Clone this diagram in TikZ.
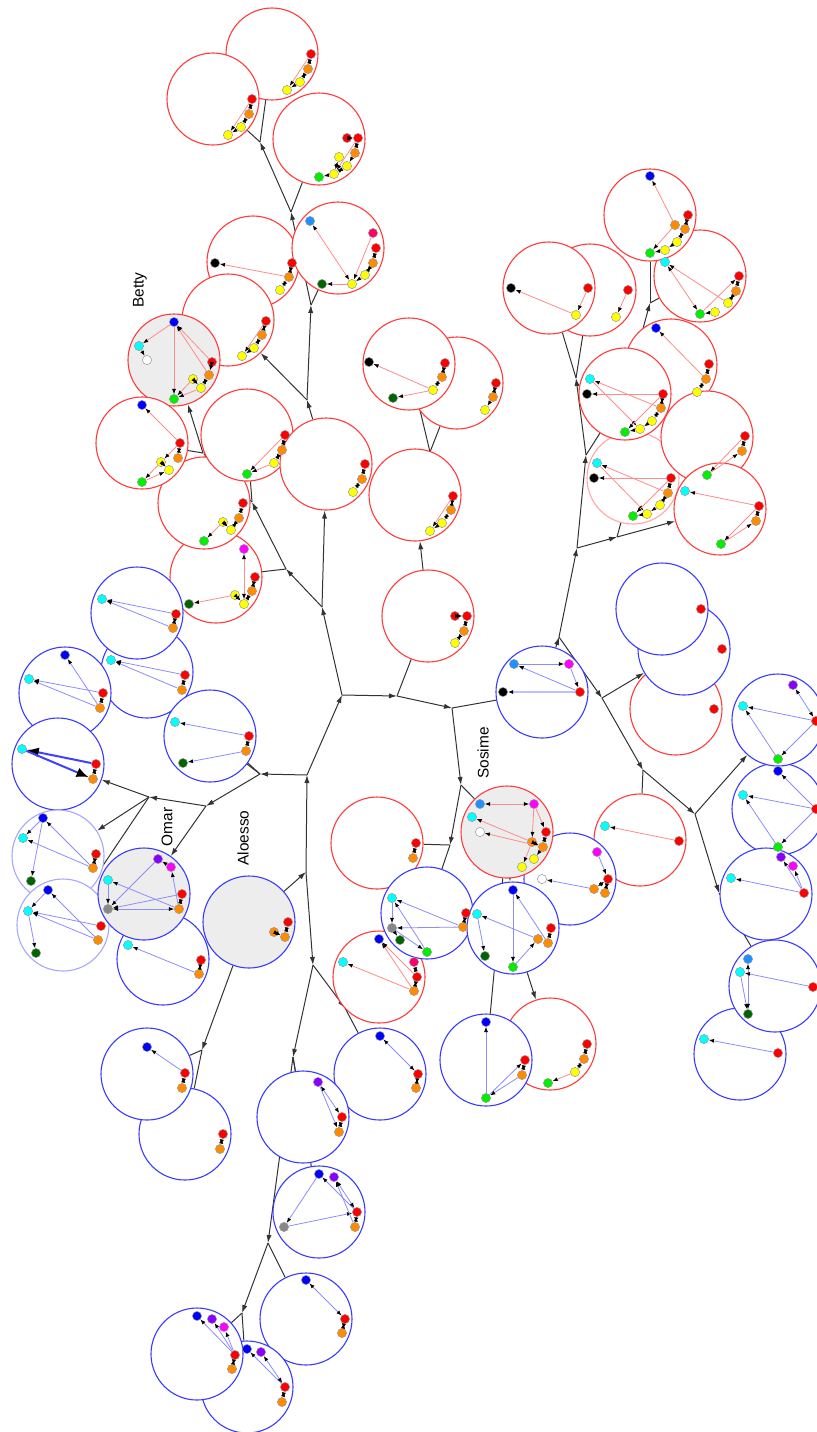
\documentclass[tikz,border=0pt]{standalone}
\usepackage{fontspec}
\setmainfont{Liberation Sans}
\usetikzlibrary{arrows.meta,backgrounds}

\definecolor{ringRed}{HTML}{FF3B3B}
\definecolor{ringBlue}{HTML}{3B3BFF}
\definecolor{nRed}{HTML}{FF0000}
\definecolor{nOrange}{HTML}{FF8C00}
\definecolor{nYellow}{HTML}{FFFF00}
\definecolor{nGreen}{HTML}{00F000}
\definecolor{nDkgreen}{HTML}{006400}
\definecolor{nCyan}{HTML}{00FFFF}
\definecolor{nBlue}{HTML}{0000FF}
\definecolor{nAzure}{HTML}{1E90FF}
\definecolor{nMagenta}{HTML}{FF00FF}
\definecolor{nPurple}{HTML}{8A00FF}
\definecolor{nPink}{HTML}{FF0066}
\definecolor{nGray}{HTML}{888888}
\definecolor{nBlack}{HTML}{000000}

\begin{document}
\begin{tikzpicture}[
  x=0.5pt, y=-0.5pt,
  grpR/.style={circle, draw=ringRed, line width=0.55pt, fill=white, minimum size=46pt, inner sep=0pt},
  grpB/.style={grpR, draw=ringBlue},
  named/.style={fill=gray!14},
  faintR/.style={draw=ringRed!45},
  faintB/.style={draw=ringBlue!45},
  nd/.style={circle, draw=black!40, line width=0.25pt, fill=#1, inner sep=0pt, minimum size=4.6pt},
  er/.style={draw=red!45, line width=0.4pt, -{Latex[color=black,length=2.6pt,width=2pt]}},
  erb/.style={er, {Latex[color=black,length=2.6pt,width=2pt]}-{Latex[color=black,length=2.6pt,width=2pt]}},
  eb/.style={er, draw=blue!45},
  ebb/.style={erb, draw=blue!45},
  ebk/.style={draw=blue!75, line width=1pt, -{Latex[color=black,length=6pt,width=5pt]}},
  dbl/.style={draw=black, line width=0.6pt, {Latex[length=2.4pt,width=2.2pt]}-{Latex[length=2.4pt,width=2.2pt]}},
  brn/.style={draw=black!80, line width=0.5pt},
  brnA/.style={brn, -{Latex[length=4pt,width=2.6pt]}},
  lbl/.style={font=\fontsize{7.7}{9}\selectfont, rotate=90},
]
\useasboundingbox (0,0) rectangle (817,1432);

% === RINGS (back to front) ===
\node[grpR] (c05) at (253,262) {};
\node[grpR] (c06) at (228,320) {};
\node[grpR] (c01) at (272,54) {};
\node[grpR] (c02) at (213,99) {};
\node[grpR] (c03) at (319,139) {};
\node[grpR] (c04) at (338,248) {};
\node[grpR, named] (c07) at (174,360) {};
\node[grpR] (c12) at (216,577) {};
\node[grpR] (c11) at (204,503) {};
\node[grpR] (c08) at (142,443) {};
\node[grpR] (c09) at (247,435) {};
\node[grpR] (c10) at (326,464) {};

\node[grpB] (c14) at (147,672) {};
\node[grpB] (c13) at (137,613) {};
\node[grpB] (c15) at (65,693) {};
\node[grpB] (c16) at (210,736) {};
\node[grpB] (c17) at (58,764) {};
\node[grpB, faintB] (c18) at (58,856) {};
\node[grpB, faintB] (c19) at (63,925) {};
\node[grpB] (c20) at (163,959) {};
\node[grpB, named] (c21) at (144,894) {};
\node[grpB, named] (c22) at (249,922) {};
\node[grpB] (c24) at (185,1134) {};
\node[grpB] (c23) at (147,1074) {};

\node[grpR] (c25) at (377,843) {};
\node[grpR] (c27) at (379,977) {};
\node[grpB] (c26) at (427,913) {};
\node[grpB] (c28) at (380,1074) {};
\node[grpB] (c29) at (303,1117) {};
\node[grpB] (c30) at (319,1212) {};
\node[grpB] (c31) at (306,1319) {};
\node[grpB] (c32) at (247,1387) {};
\node[grpB] (c33) at (197,1354) {};

\node[grpR] (c34) at (428,616) {};
\node[grpR] (c35) at (415,495) {};
\node[grpR] (c36) at (457,383) {};
\node[grpR] (c37) at (409,364) {};
\node[grpB] (c38) at (542,692) {};

\node[grpR] (c56) at (640,840) {};
\node[grpB] (c40) at (570,879) {};
\node[grpB] (c41) at (513,928) {};
\node[grpR, named] (c39) at (507,832) {};
\node[grpR] (c43) at (550,1044) {};
\node[grpB] (c42) at (486,1060) {};

\node[grpR] (c44) at (590,290) {};
\node[grpR] (c45) at (549,288) {};
\node[grpR] (c46) at (700,276) {};
\node[grpR] (c47) at (650,215) {};
\node[grpR] (c48) at (671,365) {};
\node[grpR, faintR] (c49) at (633,478) {};
\node[grpR] (c50) at (707,437) {};
\node[grpR] (c51) at (720,509) {};
\node[grpR] (c52) at (625,394) {};

\node[grpR] (c53) at (676,709) {};
\node[grpB] (c54) at (684,649) {};
\node[grpB] (c55) at (662,609) {};
\node[grpB] (c57) at (778,809) {};
\node[grpB] (c58) at (778,720) {};
\node[grpB] (c59) at (766,894) {};
\node[grpB] (c61) at (740,1054) {};
\node[grpB] (c60) at (775,986) {};

% names
\node[lbl] (lbBetty) at (140,290) {Betty};
\node[lbl] (lbOmar) at (167,827) {Omar};
\node[lbl] (lbAloesso) at (243,838) {Aloesso};
\node[lbl] (lbSosime) at (483,753) {Sosime};

% === MEMBERS ===
\node[nd=nRed] (c01a) at (311,54) {};
\node[nd=nOrange] (c01b) at (308,69) {};
\node[nd=nYellow] (c01c) at (300,82) {};
\node[nd=nYellow] (c01d) at (287,90) {};
\draw[dbl] (c01a) -- (c01b); \draw[dbl] (c01b) -- (c01c);
\draw[er] (c01c) -- (c01d); \draw[er] (c01a) -- (c01d);

\node[nd=nRed] (c02a) at (252,99) {};
\node[nd=nOrange] (c02b) at (249,114) {};
\node[nd=nYellow] (c02c) at (241,127) {};
\node[nd=nYellow] (c02d) at (228,135) {};
\draw[dbl] (c02a) -- (c02b); \draw[dbl] (c02b) -- (c02c);
\draw[er] (c02c) -- (c02d); \draw[er] (c02a) -- (c02d);

\node[nd=nRed] (c03a) at (347,138) {};
\node[nd=nRed] (c03b) at (358,138) {};
\node[nd=nOrange] (c03c) at (355,153) {};
\node[nd=nYellow] (c03d) at (339,157) {};
\node[nd=nYellow] (c03e) at (347,166) {};
\node[nd=nYellow] (c03f) at (334,174) {};
\node[nd=nGreen] (c03g) at (319,177) {};
\draw[dbl] (c03a) -- (c03b); \draw[dbl] (c03b) -- (c03c);
\draw[er] (c03c) -- (c03e); \draw[er] (c03b) -- (c03f);
\draw[dbl] (c03d) -- (c03f); \draw[dbl] (c03e) -- (c03f);
\draw[er] (c03f) -- (c03g);

\node[nd=nAzure] (c04a) at (310,221) {};
\node[nd=nPink] (c04b) at (373,233) {};
\node[nd=nRed] (c04c) at (376,248) {};
\node[nd=nOrange] (c04d) at (373,263) {};
\node[nd=nYellow] (c04e) at (365,275) {};
\node[nd=nYellow] (c04f) at (352,284) {};
\node[nd=nDkgreen] (c04g) at (322,284) {};
\draw[erb] (c04f) -- (c04a); \draw[er] (c04b) -- (c04f);
\draw[dbl] (c04c) -- (c04d); \draw[dbl] (c04d) -- (c04e);
\draw[er] (c04e) -- (c04f); \draw[er] (c04f) -- (c04g);

\node[nd=nBlack] (c05a) at (215,263) {};
\node[nd=nRed] (c05b) at (292,263) {};
\node[nd=nOrange] (c05c) at (289,277) {};
\node[nd=nYellow] (c05d) at (280,290) {};
\draw[er] (c05c) -- (c05a);
\draw[dbl] (c05b) -- (c05c); \draw[dbl] (c05c) -- (c05d);

\node[nd=nRed] (c06a) at (266,321) {};
\node[nd=nOrange] (c06b) at (262,335) {};
\node[nd=nYellow] (c06c) at (254,348) {};
\node[nd=nYellow] (c06d) at (242,356) {};
\draw[dbl] (c06a) -- (c06b); \draw[dbl] (c06b) -- (c06c);
\draw[er] (c06c) -- (c06d); \draw[er] (c06a) -- (c06d);

% Betty
\node[nd=nBlue] (c07a) at (174,322) {};
\node[nd=nCyan] (c07b) at (139,346) {};
\node[nd=white] (c07c) at (147,360) {};
\node[nd=nRed] (c07d) at (212,362) {};
\node[nd=nOrange] (c07e) at (209,375) {};
\node[nd=nYellow] (c07f) at (193,379) {};
\node[nd=nYellow] (c07g) at (201,388) {};
\node[nd=nGreen] (c07h) at (174,399) {};
\draw[er] (c07a) -- (c07b); \draw[er] (c07b) -- (c07c);
\draw[er] (c07a) -- (c07h); \draw[er] (c07d) -- (c07a); \draw[er] (c07e) -- (c07a);
\draw[dbl] (c07d) -- (c07e); \draw[dbl] (c07e) -- (c07g); \draw[dbl] (c07f) -- (c07g);
\draw[er] (c07f) -- (c07h); \draw[er] (c07g) -- (c07h);

\node[nd=nBlue] (c08a) at (142,405) {};
\node[nd=nRed] (c08b) at (180,443) {};
\node[nd=nOrange] (c08c) at (178,458) {};
\node[nd=nYellow] (c08d) at (161,462) {};
\node[nd=nYellow] (c08e) at (169,470) {};
\node[nd=nGreen] (c08f) at (142,482) {};
\draw[er] (c08b) -- (c08a); \draw[dbl] (c08b) -- (c08c);
\draw[er] (c08b) -- (c08d); \draw[dbl] (c08d) -- (c08e);
\draw[er] (c08d) -- (c08f); \draw[er] (c08f) -- (c08e);

\node[nd=nRed] (c09a) at (285,435) {};
\node[nd=nOrange] (c09b) at (282,450) {};
\node[nd=nYellow] (c09c) at (274,463) {};
\node[nd=nGreen] (c09d) at (247,474) {};
\draw[dbl] (c09a) -- (c09b); \draw[dbl] (c09b) -- (c09c);
\draw[er] (c09a) -- (c09d); \draw[er] (c09c) -- (c09d);

\node[nd=nRed] (c10a) at (365,464) {};
\node[nd=nOrange] (c10b) at (362,479) {};
\node[nd=nYellow] (c10c) at (353,492) {};
\draw[dbl] (c10a) -- (c10b); \draw[dbl] (c10b) -- (c10c);

\node[nd=nRed] (c11a) at (243,503) {};
\node[nd=nOrange] (c11b) at (239,518) {};
\node[nd=nYellow] (c11c) at (223,522) {};
\node[nd=nYellow] (c11d) at (231,530) {};
\node[nd=nGreen] (c11e) at (204,541) {};
\draw[dbl] (c11a) -- (c11b); \draw[dbl] (c11b) -- (c11d);
\draw[dbl] (c11c) -- (c11d); \draw[er] (c11c) -- (c11e);

\node[nd=nMagenta] (c12a) at (244,549) {};
\node[nd=nRed] (c12b) at (255,577) {};
\node[nd=nOrange] (c12c) at (252,591) {};
\node[nd=nYellow] (c12d) at (235,595) {};
\node[nd=nYellow] (c12e) at (244,604) {};
\node[nd=nDkgreen] (c12f) at (189,604) {};
\draw[erb] (c12e) -- (c12a); \draw[dbl] (c12b) -- (c12c);
\draw[dbl] (c12c) -- (c12e); \draw[dbl] (c12d) -- (c12e);
\draw[er] (c12d) -- (c12f);

% blue left
\node[nd=nCyan] (c13a) at (102,599) {};
\node[nd=nRed] (c13b) at (176,614) {};
\node[nd=nOrange] (c13c) at (173,628) {};
\draw[eb] (c13b) -- (c13a); \draw[eb] (c13c) -- (c13a); \draw[dbl] (c13b) -- (c13c);

\node[nd=nCyan] (c14a) at (111,660) {};
\node[nd=nRed] (c14b) at (185,675) {};
\node[nd=nOrange] (c14c) at (182,690) {};
\draw[eb] (c14b) -- (c14a); \draw[eb] (c14c) -- (c14a); \draw[dbl] (c14b) -- (c14c);

\node[nd=nBlue] (c15a) at (65,655) {};
\node[nd=nCyan] (c15b) at (29,679) {};
\node[nd=nRed] (c15c) at (103,693) {};
\node[nd=nOrange] (c15d) at (100,708) {};
\draw[eb] (c15d) -- (c15a); \draw[eb] (c15c) -- (c15b); \draw[eb] (c15d) -- (c15b);
\draw[dbl] (c15c) -- (c15d);

\node[nd=nCyan] (c16a) at (175,722) {};
\node[nd=nRed] (c16b) at (249,736) {};
\node[nd=nOrange] (c16c) at (246,751) {};
\node[nd=nDkgreen] (c16d) at (183,763) {};
\draw[eb] (c16b) -- (c16a); \draw[dbl] (c16b) -- (c16c); \draw[eb] (c16c) -- (c16d);

\node[nd=nCyan] (c17a) at (22,749) {};
\node[nd=nRed] (c17b) at (96,764) {};
\node[nd=nOrange] (c17c) at (93,779) {};
\draw[ebk] (c17b) -- (c17a); \draw[ebk] (c17a) -- (c17c); \draw[dbl] (c17b) -- (c17c);

\node[nd=nBlue] (c18a) at (43,818) {};
\node[nd=nCyan] (c18b) at (23,838) {};
\node[nd=nRed] (c18c) at (96,854) {};
\node[nd=nOrange] (c18d) at (93,868) {};
\node[nd=nDkgreen] (c18e) at (31,881) {};
\draw[eb] (c18a) -- (c18b); \draw[eb] (c18a) -- (c18e); \draw[eb] (c18d) -- (c18a);
\draw[eb] (c18d) -- (c18b); \draw[dbl] (c18c) -- (c18d);

\node[nd=nBlue] (c19a) at (48,890) {};
\node[nd=nCyan] (c19b) at (28,911) {};
\node[nd=nRed] (c19c) at (101,926) {};
\node[nd=nOrange] (c19d) at (98,940) {};
\node[nd=nDkgreen] (c19e) at (36,953) {};
\draw[eb] (c19a) -- (c19b); \draw[eb] (c19b) -- (c19e); \draw[eb] (c19d) -- (c19a);
\draw[eb] (c19c) -- (c19b); \draw[eb] (c19d) -- (c19b);

\node[nd=nCyan] (c20a) at (128,945) {};
\node[nd=nRed] (c20b) at (201,960) {};
\node[nd=nOrange] (c20c) at (199,974) {};
\draw[eb] (c20c) -- (c20a); \draw[dbl] (c20b) -- (c20c);

% Omar
\node[nd=nPurple] (c21a) at (158,859) {};
\node[nd=nMagenta] (c21b) at (171,867) {};
\node[nd=nCyan] (c21c) at (108,880) {};
\node[nd=nRed] (c21d) at (182,894) {};
\node[nd=nGray] (c21e) at (108,909) {};
\node[nd=nOrange] (c21f) at (179,909) {};
\draw[eb] (c21b) -- (c21a); \draw[eb] (c21f) -- (c21b); \draw[eb] (c21a) -- (c21e);
\draw[eb] (c21f) -- (c21c); \draw[ebb] (c21e) -- (c21f); \draw[eb] (c21d) -- (c21e);
\draw[eb] (c21c) -- (c21e); \draw[dbl] (c21d) -- (c21f);

% Aloesso
\node[nd=nRed] (c22a) at (288,922) {};
\node[nd=nOrange] (c22b) at (274,932) {};
\node[nd=nOrange] (c22c) at (285,937) {};
\draw[dbl] (c22a) -- (c22c); \draw[dbl] (c22b) -- (c22c);

\node[nd=nBlue] (c23a) at (147,1047) {};
\node[nd=nRed] (c23b) at (185,1073) {};
\node[nd=nOrange] (c23c) at (182,1088) {};
\draw[eb] (c23b) -- (c23a); \draw[dbl] (c23b) -- (c23c);

\node[nd=nRed] (c24a) at (223,1134) {};
\node[nd=nOrange] (c24b) at (220,1149) {};
\draw[dbl] (c24a) -- (c24b);

% middle
\node[nd=nRed] (c25a) at (416,843) {};
\node[nd=nOrange] (c25b) at (413,858) {};
\draw[dbl] (c25a) -- (c25b);

\node[nd=nCyan] (c26a) at (392,898) {};
\node[nd=nRed] (c26b) at (466,913) {};
\node[nd=nOrange] (c26c) at (463,927) {};
\node[nd=nGray] (c26d) at (392,928) {};
\node[nd=nDkgreen] (c26e) at (400,940) {};
\node[nd=nGreen] (c26f) at (427,952) {};
\draw[eb] (c26c) -- (c26a); \draw[eb] (c26c) -- (c26d); \draw[dbl] (c26b) -- (c26c);
\draw[eb] (c26a) -- (c26d); \draw[eb] (c26d) -- (c26e); \draw[eb] (c26d) -- (c26f);
\draw[eb] (c26f) -- (c26a);

\node[nd=nBlue] (c27a) at (379,939) {};
\node[nd=nCyan] (c27b) at (343,962) {};
\node[nd=nPink] (c27c) at (414,962) {};
\node[nd=nRed] (c27d) at (417,977) {};
\node[nd=nOrange] (c27e) at (414,991) {};
\draw[er] (c27e) -- (c27a); \draw[er] (c27d) -- (c27a); \draw[er] (c27e) -- (c27b);
\draw[dbl] (c27c) -- (c27d); \draw[dbl] (c27d) -- (c27e);

\node[nd=nBlue] (c28a) at (380,1036) {};
\node[nd=nRed] (c28b) at (418,1074) {};
\node[nd=nOrange] (c28c) at (416,1088) {};
\draw[ebb] (c28b) -- (c28a); \draw[dbl] (c28b) -- (c28c);

\node[nd=nPurple] (c29a) at (318,1082) {};
\node[nd=nRed] (c29b) at (342,1117) {};
\node[nd=nOrange] (c29c) at (339,1132) {};
\draw[ebb] (c29a) -- (c29b); \draw[eb] (c29a) -- (c29c); \draw[dbl] (c29b) -- (c29c);

\node[nd=nBlue] (c30a) at (319,1174) {};
\node[nd=nPurple] (c30b) at (334,1177) {};
\node[nd=nRed] (c30c) at (357,1212) {};
\node[nd=nOrange] (c30d) at (355,1227) {};
\node[nd=nGray] (c30e) at (284,1227) {};
\draw[eb] (c30a) -- (c30e); \draw[eb] (c30e) -- (c30c); \draw[eb] (c30c) -- (c30a);
\draw[ebb] (c30b) -- (c30c); \draw[eb] (c30d) -- (c30b); \draw[dbl] (c30c) -- (c30d);

\node[nd=nBlue] (c31a) at (306,1280) {};
\node[nd=nRed] (c31b) at (345,1319) {};
\node[nd=nOrange] (c31c) at (342,1333) {};
\draw[ebb] (c31a) -- (c31b); \draw[dbl] (c31b) -- (c31c);

\node[nd=nBlue] (c32a) at (247,1349) {};
\node[nd=nPurple] (c32b) at (261,1352) {};
\node[nd=nRed] (c32c) at (285,1387) {};
\node[nd=nOrange] (c32d) at (282,1402) {};
\draw[eb] (c32c) -- (c32a); \draw[ebb] (c32b) -- (c32c); \draw[dbl] (c32c) -- (c32d);

\node[nd=nBlue] (c33a) at (197,1316) {};
\node[nd=nPurple] (c33b) at (212,1319) {};
\node[nd=nMagenta] (c33c) at (224,1327) {};
\node[nd=nRed] (c33d) at (235,1355) {};
\node[nd=nOrange] (c33e) at (232,1369) {};
\draw[eb] (c33d) -- (c33a); \draw[eb] (c33d) -- (c33b); \draw[eb] (c33d) -- (c33c);
\draw[dbl] (c33d) -- (c33e);

% centre-top reds
\node[nd=nRed] (c34a) at (455,616) {};
\node[nd=nRed] (c34b) at (467,616) {};
\node[nd=nOrange] (c34c) at (464,631) {};
\node[nd=nYellow] (c34d) at (455,643) {};
\draw[dbl] (c34a) -- (c34b); \draw[dbl] (c34b) -- (c34c); \draw[dbl] (c34c) -- (c34d);

\node[nd=nRed] (c35a) at (453,496) {};
\node[nd=nOrange] (c35b) at (451,510) {};
\node[nd=nYellow] (c35c) at (442,523) {};
\node[nd=nYellow] (c35d) at (430,531) {};
\draw[dbl] (c35a) -- (c35b); \draw[dbl] (c35b) -- (c35c);
\draw[er] (c35c) -- (c35d); \draw[er] (c35a) -- (c35d);

\node[nd=nRed] (c36a) at (496,383) {};
\node[nd=nOrange] (c36b) at (493,397) {};
\node[nd=nYellow] (c36c) at (485,410) {};
\draw[dbl] (c36a) -- (c36b); \draw[er] (c36b) -- (c36c);

\node[nd=nBlack] (c37a) at (369,362) {};
\node[nd=nRed] (c37b) at (445,363) {};
\node[nd=nOrange] (c37c) at (442,377) {};
\node[nd=nYellow] (c37d) at (433,390) {};
\node[nd=nDkgreen] (c37e) at (393,398) {};
\draw[er] (c37d) -- (c37a); \draw[dbl] (c37b) -- (c37c);
\draw[dbl] (c37c) -- (c37d); \draw[er] (c37d) -- (c37e);

\node[nd=nAzure] (c38a) at (514,664) {};
\node[nd=nMagenta] (c38b) at (569,664) {};
\node[nd=nBlack] (c38c) at (503,692) {};
\node[nd=nRed] (c38d) at (580,692) {};
\draw[eb] (c38a) -- (c38b); \draw[eb] (c38d) -- (c38a); \draw[eb] (c38b) -- (c38d);
\draw[eb, line width=1pt, draw=blue!25] (c38d) -- (c38c);

% Sosime
\node[nd=nAzure] (c39a) at (480,804) {};
\node[nd=nMagenta] (c39b) at (534,804) {};
\node[nd=nCyan] (c39c) at (472,817) {};
\node[nd=white] (c39d) at (480,832) {};
\node[nd=nRed] (c39e) at (546,832) {};
\node[nd=nOrange] (c39f) at (532,842) {};
\node[nd=nOrange] (c39g) at (543,847) {};
\node[nd=nYellow] (c39h) at (534,859) {};
\node[nd=nYellow] (c39i) at (522,867) {};
\draw[erb] (c39a) -- (c39b); \draw[er] (c39b) -- (c39e); \draw[er] (c39b) -- (c39f);
\draw[er] (c39f) -- (c39c); \draw[er] (c39g) -- (c39d); \draw[dbl] (c39e) -- (c39g);
\draw[dbl] (c39f) -- (c39g); \draw[er] (c39g) -- (c39h); \draw[er] (c39f) -- (c39i);

\node[nd=nMagenta] (c40a) at (597,852) {};
\node[nd=nRed] (c40b) at (608,879) {};
\node[nd=nOrange] (c40c) at (594,889) {};
\node[nd=nOrange] (c40d) at (605,893) {};
\node[nd=white] (c40e) at (542,879) {};
\draw[eb] (c40a) -- (c40b); \draw[dbl] (c40b) -- (c40c); \draw[dbl] (c40b) -- (c40d);
\draw[eb] (c40c) -- (c40e);

\node[nd=nBlue] (c41a) at (513,890) {};
\node[nd=nCyan] (c41b) at (477,914) {};
\node[nd=nRed] (c41c) at (551,928) {};
\node[nd=nOrange] (c41d) at (538,939) {};
\node[nd=nOrange] (c41e) at (548,943) {};
\node[nd=nDkgreen] (c41f) at (485,956) {};
\node[nd=nGreen] (c41g) at (513,967) {};
\draw[eb] (c41a) -- (c41g); \draw[eb] (c41e) -- (c41a); \draw[eb] (c41d) -- (c41b);
\draw[eb] (c41b) -- (c41f); \draw[eb] (c41g) -- (c41d); \draw[dbl] (c41c) -- (c41e);

\node[nd=nBlue] (c42a) at (486,1022) {};
\node[nd=nRed] (c42b) at (525,1060) {};
\node[nd=nOrange] (c42c) at (522,1075) {};
\node[nd=nGreen] (c42d) at (486,1098) {};
\draw[eb] (c42d) -- (c42a); \draw[eb] (c42d) -- (c42b); \draw[eb] (c42c) -- (c42d);
\draw[dbl] (c42b) -- (c42c);

\node[nd=nRed] (c43a) at (587,1044) {};
\node[nd=nOrange] (c43b) at (584,1059) {};
\node[nd=nYellow] (c43c) at (575,1072) {};
\node[nd=nGreen] (c43d) at (548,1083) {};
\draw[dbl] (c43a) -- (c43b); \draw[dbl] (c43b) -- (c43c); \draw[er] (c43c) -- (c43d);

% right-top reds
\node[nd=nRed] (c44a) at (628,290) {};
\node[nd=nYellow] (c44b) at (616,317) {};
\draw[er] (c44a) -- (c44b);

\node[nd=nBlack] (c45a) at (511,288) {};
\node[nd=nRed] (c45b) at (588,288) {};
\node[nd=nYellow] (c45c) at (576,315) {};
\draw[er] (c45c) -- (c45a); \draw[er] (c45b) -- (c45c);

\node[nd=nCyan] (c46a) at (665,262) {};
\node[nd=nRed] (c46b) at (739,276) {};
\node[nd=nOrange] (c46c) at (736,291) {};
\node[nd=nYellow] (c46d) at (728,303) {};
\node[nd=nYellow] (c46e) at (715,312) {};
\node[nd=nGreen] (c46f) at (700,314) {};
\draw[erb] (c46a) -- (c46f); \draw[er] (c46d) -- (c46a); \draw[dbl] (c46b) -- (c46c);
\draw[dbl] (c46c) -- (c46d); \draw[er] (c46e) -- (c46f); \draw[er] (c46f) -- (c46b);

\node[nd=nBlue] (c47a) at (650,176) {};
\node[nd=nRed] (c47b) at (688,215) {};
\node[nd=nOrange] (c47c) at (675,225) {};
\node[nd=nOrange] (c47d) at (685,229) {};
\node[nd=nYellow] (c47e) at (677,242) {};
\node[nd=nYellow] (c47f) at (665,250) {};
\node[nd=nGreen] (c47g) at (650,253) {};
\draw[er] (c47c) -- (c47a); \draw[dbl] (c47b) -- (c47d); \draw[dbl] (c47d) -- (c47e);
\draw[er] (c47e) -- (c47f); \draw[er] (c47f) -- (c47g); \draw[er] (c47c) -- (c47g);

\node[nd=nBlue] (c48a) at (656,328) {};
\node[nd=nRed] (c48b) at (709,364) {};
\node[nd=nOrange] (c48c) at (706,379) {};
\node[nd=nYellow] (c48d) at (697,392) {};
\draw[er] (c48c) -- (c48a); \draw[dbl] (c48b) -- (c48c); \draw[dbl] (c48c) -- (c48d);

\node[nd=nCyan] (c49a) at (597,463) {};
\node[nd=nBlack] (c49b) at (594,478) {};
\node[nd=nRed] (c49c) at (671,478) {};
\node[nd=nOrange] (c49d) at (668,493) {};
\node[nd=nYellow] (c49e) at (660,505) {};
\node[nd=nYellow] (c49f) at (647,514) {};
\node[nd=nGreen] (c49g) at (633,516) {};
\draw[er] (c49c) -- (c49b); \draw[er] (c49d) -- (c49a); \draw[er] (c49a) -- (c49f);
\draw[er] (c49c) -- (c49g); \draw[dbl] (c49c) -- (c49d); \draw[dbl] (c49d) -- (c49e);
\draw[er] (c49e) -- (c49f); \draw[er] (c49f) -- (c49g);

\node[nd=nRed] (c50a) at (745,436) {};
\node[nd=nOrange] (c50b) at (742,451) {};
\node[nd=nGreen] (c50c) at (707,475) {};
\draw[er] (c50a) -- (c50c); \draw[er] (c50c) -- (c50b); \draw[dbl] (c50a) -- (c50b);

\node[nd=nCyan] (c51a) at (685,491) {};
\node[nd=nRed] (c51b) at (759,506) {};
\node[nd=nOrange] (c51c) at (756,521) {};
\node[nd=nGreen] (c51d) at (721,544) {};
\draw[er] (c51b) -- (c51a); \draw[er] (c51b) -- (c51d); \draw[er] (c51d) -- (c51c);
\draw[dbl] (c51b) -- (c51c);

\node[nd=nCyan] (c52a) at (590,379) {};
\node[nd=nBlack] (c52b) at (587,394) {};
\node[nd=nRed] (c52c) at (663,394) {};
\node[nd=nOrange] (c52d) at (661,408) {};
\node[nd=nYellow] (c52e) at (652,421) {};
\node[nd=nYellow] (c52f) at (640,429) {};
\node[nd=nGreen] (c52g) at (625,432) {};
\draw[er] (c52c) -- (c52b); \draw[er] (c52d) -- (c52a); \draw[er] (c52a) -- (c52f);
\draw[er] (c52c) -- (c52g); \draw[dbl] (c52c) -- (c52d); \draw[dbl] (c52d) -- (c52e);
\draw[er] (c52e) -- (c52f); \draw[er] (c52f) -- (c52g);

% right-low
\node[nd=nRed] (c53a) at (714,709) {};
\node[nd=nRed] (c54a) at (722,649) {};
\node[nd=nRed] (c55a) at (701,609) {};

\node[nd=nCyan] (c56a) at (605,826) {};
\node[nd=nRed] (c56b) at (679,841) {};
\draw[er] (c56b) -- (c56a);

\node[nd=nBlue] (c57a) at (778,771) {};
\node[nd=nCyan] (c57b) at (743,795) {};
\node[nd=nRed] (c57c) at (816,809) {};
\node[nd=nGreen] (c57d) at (778,847) {};
\draw[eb] (c57c) -- (c57a); \draw[eb] (c57c) -- (c57b); \draw[eb] (c57d) -- (c57b);
\draw[eb] (c57c) -- (c57d);

\node[nd=nPurple] (c58a) at (793,685) {};
\node[nd=nCyan] (c58b) at (743,706) {};
\node[nd=nRed] (c58c) at (816,721) {};
\node[nd=nGreen] (c58d) at (778,759) {};
\draw[ebb] (c58a) -- (c58c); \draw[eb] (c58c) -- (c58b); \draw[eb] (c58d) -- (c58b);
\draw[eb] (c58c) -- (c58d);

\node[nd=nPurple] (c59a) at (781,857) {};
\node[nd=nMagenta] (c59b) at (793,866) {};
\node[nd=nCyan] (c59c) at (731,878) {};
\node[nd=nRed] (c59d) at (804,893) {};
\draw[eb] (c59d) -- (c59a); \draw[eb] (c59d) -- (c59b); \draw[eb] (c59d) -- (c59c);

\node[nd=nAzure] (c60a) at (748,959) {};
\node[nd=nCyan] (c60b) at (740,972) {};
\node[nd=nRed] (c60c) at (813,987) {};
\node[nd=nDkgreen] (c60d) at (748,1014) {};
\draw[ebb] (c60a) -- (c60d); \draw[eb] (c60b) -- (c60d); \draw[eb] (c60c) -- (c60b);

\node[nd=nCyan] (c61a) at (704,1039) {};
\node[nd=nRed] (c61b) at (778,1053) {};
\draw[eb] (c61b) -- (c61a);

% === BRANCHES ===
\coordinate (j1) at (260,142);
\coordinate (j2) at (291,212);
\coordinate (j3) at (311,305);
\coordinate (j4) at (203,453);
\coordinate (j5) at (252,502);
\coordinate (j6) at (286,569);
\coordinate (j7) at (322,607);
\coordinate (j8) at (307,400);
\coordinate (jA) at (342,695);
\coordinate (jB) at (397,696);
\coordinate (jD) at (307,775);
\coordinate (jE) at (306,872);
\coordinate (j9) at (452,708);
\coordinate (j10) at (461,785);
\coordinate (j11) at (450,845);
\coordinate (j12) at (559,637);
\coordinate (j13) at (577,548);
\coordinate (j14) at (602,698);
\coordinate (j15) at (586,455);
\coordinate (j16) at (617,537);
\coordinate (j17) at (576,378);
\coordinate (j18) at (650,303);
\coordinate (j19) at (643,770);
\coordinate (j20) at (695,814);
\coordinate (j21) at (260,774);
\coordinate (j22) at (206,806);
\coordinate (j23) at (149,797);
\coordinate (j24) at (313,965);
\coordinate (j25) at (202,1050);
\coordinate (j26) at (293,1057);
\coordinate (j27) at (268,1243);
\coordinate (j28) at (242,1313);
\coordinate (j30) at (430,452);
\coordinate (k41) at (719,893);
\coordinate (k57) at (345,1008);

\begin{scope}[on background layer]
\fill[white] (0,0) rectangle (817,1432);
\draw[brn] (j1) -- (c01); \draw[brn] (j1) -- (c02);
\draw[brn] (j2) -- (c03); \draw[brn] (j3) -- (c04);
\draw[brnA] (j2) -- (j1); \draw[brnA] (j3) -- (j2);
\draw[brnA] (j8) -- (j3); \draw[brnA] (j8) -- (c06);
\draw[brnA] (c10) -- (j8); \draw[brnA] (j7) -- (c10);
\draw[brnA] (jA) -- (j7); \draw[brnA] (j7) -- (j6);
\draw[brn] (j6) -- (c12); \draw[brnA] (j6) -- (j5);
\draw[brn] (j5) -- (c09); \draw[brnA] (j5) -- (j4);
\draw[brnA] (j4) -- (c07); \draw[brn] (j4) -- (c08);
\draw[brnA] (jD) -- (jA); \draw[brnA] (jA) -- (jB);
\draw[brn] (jB) -- (c34); \draw[brnA] (c34) -- (c35);
\draw[brn] (c35) -- (j30);
\draw[brn] (j30) -- (c37); \draw[brn] (j30) -- (c36);
\draw[brnA] (jB) -- (j9); \draw[brn] (j9) -- (c38);
\draw[brnA] (c38) -- (j12);
\draw[brnA] (j12) -- (j13); \draw[brnA] (j12) -- (j14);
\draw[brnA] (j13) -- (j16);
\draw[brn] (j16) -- (c49); \draw[brnA] (j16) -- (c51);
\draw[brnA] (j13) -- (j15); \draw[brn] (j15) -- (c52);
\draw[brnA] (j15) -- (j17);
\draw[brn] (j17) -- (c45); \draw[brn] (j17) -- (c44);
\draw[brnA] (c52) -- (j18);
\draw[brn] (j18) -- (c47); \draw[brn] (j18) -- (c46);
\draw[brnA] (j14) -- (c54); \draw[brnA] (j14) -- (j19);
\draw[brn] (j19) -- (c56); \draw[brnA] (j19) -- (j20);
\draw[brnA] (j20) -- (c58); \draw[brnA] (j20) -- (k41);
\draw[brn] (k41) -- (c60);
\draw[brnA] (j9) -- (j10); \draw[brn] (j10) -- (c39);
\draw[brnA] (j10) -- (j11);
\draw[brn] (j11) -- (c25); \draw[brn] (j11) -- (c26);
\draw[brnA] (c39) -- (c41); \draw[brn] (c39) -- (c42);
\draw[brnA] (c41) -- (c43);
\draw[brnA] (c22) -- (jE); \draw[brnA] (jE) -- (jD);
\draw[brnA] (jE) -- (j24); \draw[brnA] (c22) -- (j25);
\draw[brn] (j25) -- (c23); \draw[brn] (j25) -- (c24);
\draw[brnA] (j24) -- (j26); \draw[brnA] (j24) -- (k57);
\draw[brn] (k57) -- (c28);
\draw[brn] (j26) -- (c29); \draw[brnA] (j26) -- (j27);
\draw[brn] (j26) -- (c30);
\draw[brn] (j27) -- (c31); \draw[brnA] (j27) -- (j28);
\draw[brn] (j28) -- (c33); \draw[brn] (j28) -- (c32);
\draw[brnA] (jD) -- (j21);
\draw[brn] (j21) -- (c16); \draw[brn] (j21) -- (c14);
\draw[brnA] (j21) -- (j22); \draw[brnA] (j22) -- (j23);
\draw[brnA] (j22) -- (c21);
\draw[brnA] (j23) -- (c17); \draw[brnA] (j23) -- (c18);
\draw[brnA] (j23) -- (c19);
\end{scope}
\end{tikzpicture}
\end{document}
